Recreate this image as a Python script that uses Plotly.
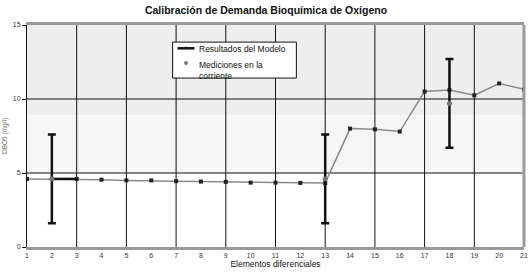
import plotly.graph_objects as go

elementos = list(range(1, 22))
modelo = [4.6, 4.6, 4.6, 4.55, 4.5, 4.5, 4.45, 4.42, 4.4, 4.35, 4.35, 4.33, 4.33,
          8.0, 7.95, 7.8, 10.5, 10.6, 10.25, 11.05, 10.65]
med_x = [2, 13, 18]
med_y = [4.6, 4.6, 9.7]
med_err = [3.0, 3.0, 3.0]
med_err_x = [1, 0, 0]
bandas = [(0, 5, "#ffffff"), (5, 8.9, "#f6f6f6"), (8.9, 15, "#eeeeee")]
grid_x = list(range(3, 20, 2))
grid_y = [5, 10]
nombres = ["Resultados del Modelo", "Mediciones en la<br>corriente"]

fig = go.Figure()

fig.add_trace(go.Scatter(
    x=elementos, y=modelo, mode="lines+markers", name=nombres[0],
    line=dict(color="#8a8a8a", width=1.5),
    marker=dict(symbol="square", size=4, color="#222222"),
    showlegend=False, hoverinfo="skip"))

fig.add_trace(go.Scatter(
    x=med_x, y=med_y, mode="markers", name=nombres[1], showlegend=False,
    marker=dict(symbol="circle", size=5, color="#777777"),
    error_y=dict(type="data", array=med_err, color="#111111", thickness=2.5, width=4),
    error_x=dict(type="data", array=med_err_x, arrayminus=[0, 0, 0], symmetric=False,
                 color="#111111", thickness=2.5, width=0)))

for y0, y1, c in bandas:
    fig.add_shape(type="rect", xref="paper", x0=0, x1=1, y0=y0, y1=y1, yref="y",
                  fillcolor=c, line_width=0, layer="below")
for gx in grid_x:
    fig.add_shape(type="line", xref="x", yref="paper", x0=gx, x1=gx, y0=0, y1=1,
                  line=dict(color="#111111", width=1), layer="below")
for gy in grid_y:
    fig.add_shape(type="line", xref="paper", yref="y", x0=0, x1=1, y0=gy, y1=gy,
                  line=dict(color="#111111", width=1), layer="below")
# right border
fig.add_shape(type="line", xref="paper", yref="paper", x0=1, x1=1, y0=0, y1=1,
              line=dict(color="#999999", width=3), layer="above")

# custom legend box (paper coordinates)
fig.add_shape(type="rect", xref="paper", yref="paper", x0=0.293, x1=0.542, y0=0.761, y1=0.923,
              fillcolor="white", line=dict(color="#111111", width=1), layer="above")
fig.add_shape(type="line", xref="paper", yref="paper", x0=0.303, x1=0.337, y0=0.895, y1=0.895,
              line=dict(color="#111111", width=2.5), layer="above")
fig.add_shape(type="line", xref="paper", yref="paper", x0=0.320, x1=0.320, y0=0.895, y1=0.903,
              line=dict(color="#111111", width=1), layer="above")
fig.add_shape(type="circle", xref="paper", yref="paper", x0=0.316, x1=0.324, y0=0.820, y1=0.838,
              fillcolor="#777777", line_width=0, layer="above")
fig.add_annotation(xref="paper", yref="paper", x=0.342, y=0.890, xanchor="left", yanchor="middle",
                   text=nombres[0], showarrow=False, font=dict(size=8.5, color="#111111"))
fig.add_annotation(xref="paper", yref="paper", x=0.342, y=0.797, xanchor="left", yanchor="middle",
                   text=nombres[1], showarrow=False, align="left",
                   font=dict(size=8.5, color="#111111"))

fig.update_layout(
    width=532, height=272,
    margin=dict(l=26, r=4, t=25, b=25),
    paper_bgcolor="white", plot_bgcolor="white",
    font=dict(family="Liberation Sans, Arial, sans-serif", color="#111111"),
    title=dict(text="<b>Calibración de Demanda Bioquímica de Oxígeno</b>",
               x=0.5, xanchor="center", y=0.962, yanchor="middle",
               font=dict(size=10.5, color="#111111")),
    showlegend=False,
    xaxis=dict(range=[1, 21], tickmode="array", tickvals=elementos,
               showgrid=False, zeroline=False, showline=True, linecolor="#999999",
               linewidth=3, mirror=True, ticks="", tickfont=dict(size=7, color="#333333"),
               title=dict(text="Elementos diferenciales", font=dict(size=8.5), standoff=2)),
    yaxis=dict(range=[0, 15], tickvals=[0, 5, 10, 15], showgrid=False, zeroline=False,
               showline=True, linecolor="#111111", linewidth=1, ticks="outside",
               ticklen=4, tickcolor="#111111", tickfont=dict(size=7, color="#333333"),
               title=dict(text="DBO5 (mg/l)", font=dict(size=6.5, color="#777777"), standoff=4)),
)

fig.write_html("out.html", config={"displayModeBar": False},
               post_script="document.body.style.margin='0';document.body.style.overflow='hidden';")
